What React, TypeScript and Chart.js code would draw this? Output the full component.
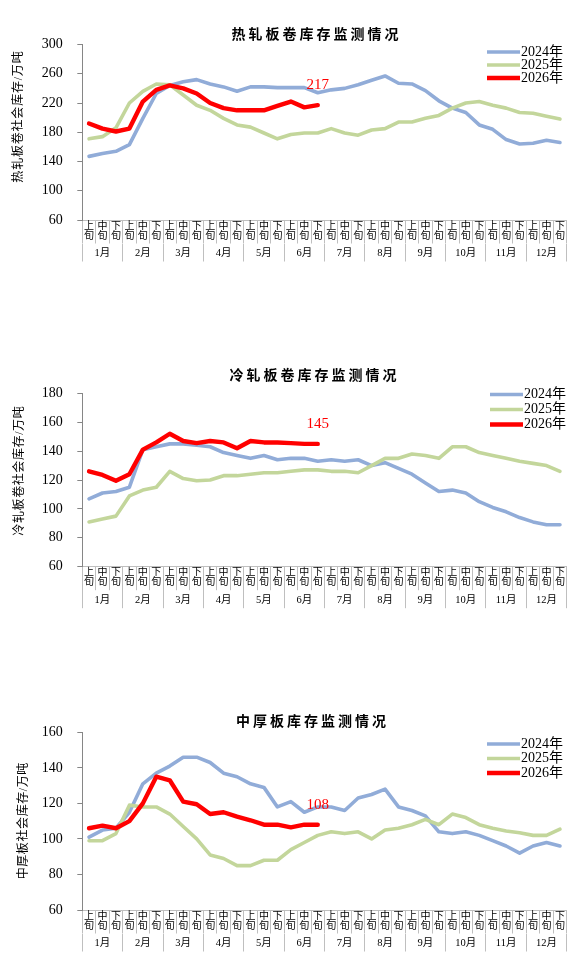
import React, { useEffect, useRef } from 'react';
import { Chart, registerables } from 'chart.js';

Chart.register(...registerables);

// ---------- category / tick labels ----------
const MONTHS = ['1月', '2月', '3月', '4月', '5月', '6月', '7月', '8月', '9月', '10月', '11月', '12月'];
const XUN = [['上', '旬'], ['中', '旬'], ['下', '旬']];
const CATEGORIES: string[][] = [];
MONTHS.forEach(() => XUN.forEach((x) => CATEGORIES.push(x)));

const SERIES_NAMES = ['2024年', '2025年', '2026年'];

// ---------- 热轧板卷 ----------
const HR_TICKS = [60, 100, 140, 180, 220, 260, 300];
const HR_2024 = [147, 151, 154, 163, 199, 233, 244, 249, 252, 246, 242, 236, 242, 242, 241, 241, 241, 234, 238, 240, 245, 251, 257, 247, 246, 237, 223, 213, 207, 190, 184, 170, 164, 165, 169, 166];
const HR_2025 = [171, 174, 186, 220, 236, 246, 245, 231, 217, 210, 199, 190, 187, 179, 171, 177, 179, 179, 185, 179, 176, 183, 185, 194, 194, 199, 203, 213, 220, 222, 217, 213, 207, 206, 202, 198];
const HR_2026 = [192, 185, 181, 185, 222, 238, 244, 240, 233, 220, 213, 210, 210, 210, 216, 222, 214, 217];

// ---------- 冷轧板卷 ----------
const CR_TICKS = [60, 80, 100, 120, 140, 160, 180];
const CR_2024 = [107, 111, 112, 115, 141, 143, 145, 145, 144, 143, 139, 137, 135, 137, 134, 135, 135, 133, 134, 133, 134, 130, 132, 128, 124, 118, 112, 113, 111, 105, 101, 98, 94, 91, 89, 89];
const CR_2025 = [91, 93, 95, 109, 113, 115, 126, 121, 119.5, 120, 123, 123, 124, 125, 125, 126, 127, 127, 126, 126, 125, 130, 135, 135, 138, 137, 135, 143, 143, 139, 137, 135, 133, 131.5, 130, 126];
const CR_2026 = [126, 123.5, 119.5, 124, 141, 146, 152, 147, 145.5, 147, 146, 142, 147, 146, 146, 145.5, 145, 145];

// ---------- 中厚板 ----------
const PL_TICKS = [60, 80, 100, 120, 140, 160];
const PL_2024 = [101, 105, 106, 115, 131, 137, 141, 146, 146, 143, 137, 135, 131, 129, 118, 121, 115, 118, 118, 116, 123, 125, 128, 118, 116, 113, 104, 103, 104, 102, 99, 96, 92, 96, 98, 96];
const PL_2025 = [99, 99, 103, 119, 118, 118, 114, 107, 100, 91, 89, 85, 85, 88, 88, 94, 98, 102, 104, 103, 104, 100, 105, 106, 108, 111, 108, 114, 112, 108, 106, 104.5, 103.5, 102, 102, 105.5];
const PL_2026 = [106, 107.5, 106, 110, 120, 135, 133, 121, 119.5, 114, 115, 112.5, 110.5, 108, 108, 106.5, 108, 108];

// ---------- styles ----------
const BLUE = '#91ACD8';
const GREEN = '#C3D69B';
const RED = '#FF0000';
const SERIF = '"Liberation Serif", "Noto Sans CJK SC", serif';
const SANS = '"Noto Sans CJK SC", sans-serif';

function drawSpaced(ctx: CanvasRenderingContext2D, text: string, cx: number, cy: number, spacing: number) {
  const chars = Array.from(text);
  const widths = chars.map((c) => ctx.measureText(c).width);
  const total = widths.reduce((a, b) => a + b, 0) + spacing * (chars.length - 1);
  let x = cx - total / 2;
  ctx.textAlign = 'left';
  chars.forEach((c, i) => {
    ctx.fillText(c, x, cy);
    x += widths[i] + spacing;
  });
}

const decorPlugin = {
  id: 'decor',
  afterDraw(chart: any, _args: any, o: any) {
    const ctx: CanvasRenderingContext2D = chart.ctx;
    ctx.save();
    ctx.textBaseline = 'middle';
    ctx.fillStyle = '#000';
    // title
    ctx.font = `bold 14px ${SANS}`;
    drawSpaced(ctx, o.title, o.titleX, o.titleY, 3);
    // y title
    ctx.save();
    ctx.translate(o.yTitleX, o.yTitleY);
    ctx.rotate(-Math.PI / 2);
    ctx.font = `12px ${SERIF}`;
    drawSpaced(ctx, o.yTitle, 0, 0, o.yTitleSpacing);
    ctx.restore();
    // legend
    chart.data.datasets.forEach((ds: any, i: number) => {
      const y = o.legendY[i];
      ctx.strokeStyle = ds.borderColor;
      ctx.lineWidth = ds.borderWidth;
      ctx.lineCap = 'butt';
      ctx.beginPath();
      ctx.moveTo(o.legendX1, y);
      ctx.lineTo(o.legendX2, y);
      ctx.stroke();
      ctx.font = `14px ${SERIF}`;
      ctx.fillStyle = '#000';
      ctx.textAlign = 'left';
      ctx.fillText(ds.label, o.legendX2 + 1, y);
    });
    // last value label of current-year series
    const idx = chart.data.datasets.length - 1;
    const data = chart.data.datasets[idx].data;
    const meta = chart.getDatasetMeta(idx);
    const pt = meta.data[data.length - 1];
    ctx.fillStyle = RED;
    ctx.font = `15px ${SERIF}`;
    ctx.textAlign = 'center';
    ctx.fillText(String(Math.round(data[data.length - 1])), pt.x, pt.y - 20);
    ctx.restore();
  },
};

type PanelCfg = {
  title: string;
  yTitle: string;
  ticks: number[];
  s2024: number[];
  s2025: number[];
  s2026: number[];
  canvasTop: number;
  canvasHeight: number;
  areaTop: number;
  areaBottom: number;
  titleX: number;
  titleY: number;
  yTitleX: number;
  yTitleY: number;
  yTitleSpacing: number;
  legendY: number[];
  legendX1: number;
  legendX2: number;
};

const XUN_H = 23.5;
const MONTH_H = 18;

function makeConfig(p: PanelCfg): any {
  const axisGray = '#BFBFBF';
  return {
    type: 'line',
    data: {
      labels: CATEGORIES,
      datasets: [
        { label: SERIES_NAMES[0], data: p.s2024, borderColor: BLUE, backgroundColor: BLUE, borderWidth: 3.6, order: 3 },
        { label: SERIES_NAMES[1], data: p.s2025, borderColor: GREEN, backgroundColor: GREEN, borderWidth: 3.6, order: 2 },
        { label: SERIES_NAMES[2], data: p.s2026, borderColor: RED, backgroundColor: RED, borderWidth: 4.4, order: 1 },
      ],
    },
    options: {
      animation: false,
      responsive: false,
      layout: {
        padding: {
          top: p.areaTop - p.canvasTop,
          bottom: p.canvasTop + p.canvasHeight - p.areaBottom - XUN_H - MONTH_H,
          left: 0,
          right: 18.3,
        },
      },
      elements: {
        point: { radius: 0, hoverRadius: 0 },
        line: { tension: 0, borderJoinStyle: 'round', borderCapStyle: 'round', fill: false },
      },
      plugins: {
        legend: { display: false },
        title: { display: false },
        tooltip: { enabled: false },
        decor: {
          title: p.title,
          titleX: p.titleX,
          titleY: p.titleY - p.canvasTop,
          yTitle: p.yTitle,
          yTitleX: p.yTitleX,
          yTitleY: p.yTitleY - p.canvasTop,
          yTitleSpacing: p.yTitleSpacing,
          legendY: p.legendY.map((v) => v - p.canvasTop),
          legendX1: p.legendX1,
          legendX2: p.legendX2,
        },
      },
      scales: {
        x: {
          type: 'category',
          position: 'bottom',
          offset: true,
          weight: 0,
          grid: { display: true, drawOnChartArea: false, drawTicks: true, offset: true, tickLength: XUN_H, color: axisGray, lineWidth: 1 },
          border: { display: true, color: axisGray, width: 1 },
          ticks: {
            autoSkip: false,
            maxRotation: 0,
            minRotation: 0,
            padding: -22.5,
            color: '#000',
            font: { family: SERIF, size: 10, lineHeight: 1 },
          },
          afterFit: (s: any) => {
            s.height = XUN_H;
          },
        },
        x2: {
          type: 'category',
          labels: MONTHS,
          position: 'bottom',
          offset: true,
          weight: 1,
          grid: { display: true, drawOnChartArea: false, drawTicks: true, offset: true, tickLength: MONTH_H, color: axisGray, lineWidth: 1 },
          border: { display: false },
          ticks: {
            autoSkip: false,
            maxRotation: 0,
            minRotation: 0,
            padding: -14.5,
            color: '#000',
            font: { family: SERIF, size: 10.5, lineHeight: 1.2 },
          },
          afterFit: (s: any) => {
            s.height = MONTH_H;
          },
        },
        y: {
          type: 'linear',
          position: 'left',
          min: p.ticks[0],
          max: p.ticks[p.ticks.length - 1],
          grid: { display: true, drawOnChartArea: false, drawTicks: true, tickLength: 5, color: '#868686' },
          border: { display: true, color: '#868686', width: 1 },
          ticks: {
            stepSize: p.ticks[1] - p.ticks[0],
            padding: 14.5,
            color: '#000',
            font: { family: SERIF, size: 14 },
          },
          afterFit: (s: any) => {
            s.width = 82.3;
          },
        },
      },
    },
    plugins: [decorPlugin],
  };
}

const PANELS: PanelCfg[] = [
  {
    title: '热轧板卷库存监测情况',
    yTitle: '热轧板卷社会库存/万吨',
    ticks: HR_TICKS,
    s2024: HR_2024,
    s2025: HR_2025,
    s2026: HR_2026,
    canvasTop: 0,
    canvasHeight: 290,
    areaTop: 44.5,
    areaBottom: 220,
    titleX: 315,
    titleY: 34,
    yTitleX: 19,
    yTitleY: 117,
    yTitleSpacing: 0.8,
    legendY: [52, 65, 78],
    legendX1: 487,
    legendX2: 520,
  },
  {
    title: '冷轧板卷库存监测情况',
    yTitle: '冷轧板卷社会库存/万吨',
    ticks: CR_TICKS,
    s2024: CR_2024,
    s2025: CR_2025,
    s2026: CR_2026,
    canvasTop: 340,
    canvasHeight: 290,
    areaTop: 393.3,
    areaBottom: 566.7,
    titleX: 313,
    titleY: 375,
    yTitleX: 20,
    yTitleY: 471,
    yTitleSpacing: 0.6,
    legendY: [394.5, 409.5, 424.5],
    legendX1: 490,
    legendX2: 523,
  },
  {
    title: '中厚板库存监测情况',
    yTitle: '中厚板社会库存/万吨',
    ticks: PL_TICKS,
    s2024: PL_2024,
    s2025: PL_2025,
    s2026: PL_2026,
    canvasTop: 680,
    canvasHeight: 290,
    areaTop: 732.3,
    areaBottom: 910,
    titleX: 311,
    titleY: 721,
    yTitleX: 24,
    yTitleY: 821,
    yTitleSpacing: 0.6,
    legendY: [744, 758.5, 773],
    legendX1: 487,
    legendX2: 520,
  },
];

function Panel({ cfg }: { cfg: PanelCfg }) {
  const ref = useRef<HTMLCanvasElement>(null);
  useEffect(() => {
    if (!ref.current) return;
    const chart = new Chart(ref.current, makeConfig(cfg));
    return () => chart.destroy();
  }, [cfg]);
  return (
    <canvas
      ref={ref}
      width={585}
      height={cfg.canvasHeight}
      style={{ position: 'absolute', left: 0, top: cfg.canvasTop, width: 585, height: cfg.canvasHeight }}
    />
  );
}

export default function App() {
  return (
    <div style={{ position: 'absolute', left: 0, top: 0, width: 585, height: 970, background: '#fff', overflow: 'hidden' }}>
      {PANELS.map((p) => (
        <Panel key={p.title} cfg={p} />
      ))}
    </div>
  );
}
